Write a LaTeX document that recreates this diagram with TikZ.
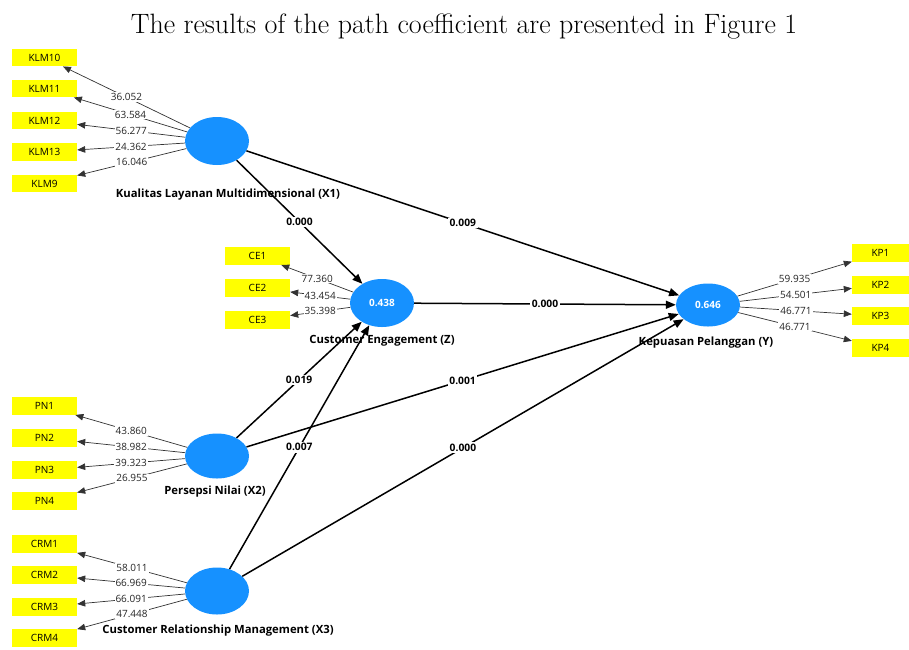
\documentclass[tikz,border=0pt]{standalone}
\usepackage{fontspec}
\newfontfamily\osans{Open Sans}
\usetikzlibrary{arrows.meta,shapes.geometric,calc}
\definecolor{lvblue}{RGB}{22,145,255}
\definecolor{indyel}{RGB}{255,255,0}
\begin{document}
\begin{tikzpicture}[x=1pt,y=-1pt,
  lv/.style={ellipse, fill=lvblue, minimum width=64pt, minimum height=48pt, inner sep=0pt, text=white, font=\osans\bfseries\fontsize{10}{12}\selectfont},
  ind/.style={rectangle, fill=indyel, minimum width=65pt, minimum height=17.5pt, inner sep=0pt, font=\osans\fontsize{10}{12}\selectfont},
  lvname/.style={font=\osans\bfseries\fontsize{11.3}{13}\selectfont, inner sep=0pt},
  load/.style={draw=black!80, line width=0.7pt, -{Triangle[length=8pt,width=6.5pt]}},
  loadlab/.style={fill=white, inner sep=1pt, font=\osans\fontsize{10}{12}\selectfont, text=black!85},
  struct/.style={draw=black, line width=1.5pt, -{Triangle[length=10pt,width=8pt]}},
  structlab/.style={fill=white, inner sep=1.5pt, font=\osans\bfseries\fontsize{10.3}{12}\selectfont}]
\useasboundingbox[fill=white] (0,0) rectangle (909,649);

% title
\node[font=\fontsize{28}{33}\selectfont, anchor=base, inner sep=0pt] (title) at (464,33) {The results of the path coefficient are presented in Figure 1};

% latent variables
\node[lv] (X1) at (217,141) {};
\node[lv] (Z) at (382,303) {0.438};
\node[lv, minimum height=45pt] (X2) at (217,456) {};
\node[lv, minimum height=47pt] (X3) at (217,591) {};
\node[lv, minimum height=43pt] (Y) at (708,305) {0.646};

% latent variable names
\node[lvname] (nX1) at (228,195) {Kualitas Layanan Multidimensional (X1)};
\node[lvname] (nZ) at (382,341) {Customer Engagement (Z)};
\node[lvname] (nX2) at (215,492) {Persepsi Nilai (X2)};
\node[lvname] (nX3) at (218,631) {Customer Relationship Management (X3)};
\node[lvname] (nY) at (706,343) {Kepuasan Pelanggan (Y)};

% indicators
\node[ind] (KLM10) at (44.5,57.5) {KLM10};
\node[ind] (KLM11) at (44.5,88.5) {KLM11};
\node[ind] (KLM12) at (44.5,120.5) {KLM12};
\node[ind] (KLM13) at (44.5,152) {KLM13};
\node[ind] (KLM9) at (44.5,183.5) {KLM9};

\node[ind] (CE1) at (257.5,256) {CE1};
\node[ind] (CE2) at (257.5,288) {CE2};
\node[ind] (CE3) at (257.5,320) {CE3};

\node[ind] (PN1) at (44.5,406) {PN1};
\node[ind] (PN2) at (44.5,438) {PN2};
\node[ind] (PN3) at (44.5,470) {PN3};
\node[ind] (PN4) at (44.5,501) {PN4};

\node[ind] (CRM1) at (44.5,544) {CRM1};
\node[ind] (CRM2) at (44.5,575) {CRM2};
\node[ind] (CRM3) at (44.5,607) {CRM3};
\node[ind] (CRM4) at (44.5,638) {CRM4};

\node[ind, minimum width=57pt] (KP1) at (880.5,253) {KP1};
\node[ind, minimum width=57pt] (KP2) at (880.5,285) {KP2};
\node[ind, minimum width=57pt] (KP3) at (880.5,316) {KP3};
\node[ind, minimum width=57pt] (KP4) at (880.5,348) {KP4};

% outer loadings
\draw[load] (X1) -- node[loadlab]{36.052} (KLM10);
\draw[load] (X1) -- node[loadlab]{63.584} (KLM11);
\draw[load] (X1) -- node[loadlab]{56.277} (KLM12);
\draw[load] (X1) -- node[loadlab]{24.362} (KLM13);
\draw[load] (X1) -- node[loadlab]{16.046} (KLM9);

\draw[load] (Z) -- node[loadlab]{77.360} (CE1);
\draw[load] (Z) -- node[loadlab]{43.454} (CE2);
\draw[load] (Z) -- node[loadlab]{35.398} (CE3);

\draw[load] (X2) -- node[loadlab]{43.860} (PN1);
\draw[load] (X2) -- node[loadlab]{38.982} (PN2);
\draw[load] (X2) -- node[loadlab]{39.323} (PN3);
\draw[load] (X2) -- node[loadlab]{26.955} (PN4);

\draw[load] (X3) -- node[loadlab]{58.011} (CRM1);
\draw[load] (X3) -- node[loadlab]{66.969} (CRM2);
\draw[load] (X3) -- node[loadlab]{66.091} (CRM3);
\draw[load] (X3) -- node[loadlab]{47.448} (CRM4);

\draw[load] (Y) -- node[loadlab]{59.935} (KP1);
\draw[load] (Y) -- node[loadlab]{54.501} (KP2);
\draw[load] (Y) -- node[loadlab]{46.771} (KP3);
\draw[load] (Y) -- node[loadlab]{46.771} (KP4);

% structural paths
\draw[struct] (X1) -- node[structlab]{0.000} (Z);
\draw[struct] (X1) -- node[structlab]{0.009} (Y);
\draw[struct] (Z) -- node[structlab]{0.000} (Y);
\draw[struct] (X2) -- node[structlab]{0.019} (Z);
\draw[struct] (X2) -- node[structlab]{0.001} (Y);
\draw[struct] (X3) -- node[structlab]{0.007} (Z);
\draw[struct] (X3) -- node[structlab]{0.000} (Y);
\end{tikzpicture}
\end{document}
